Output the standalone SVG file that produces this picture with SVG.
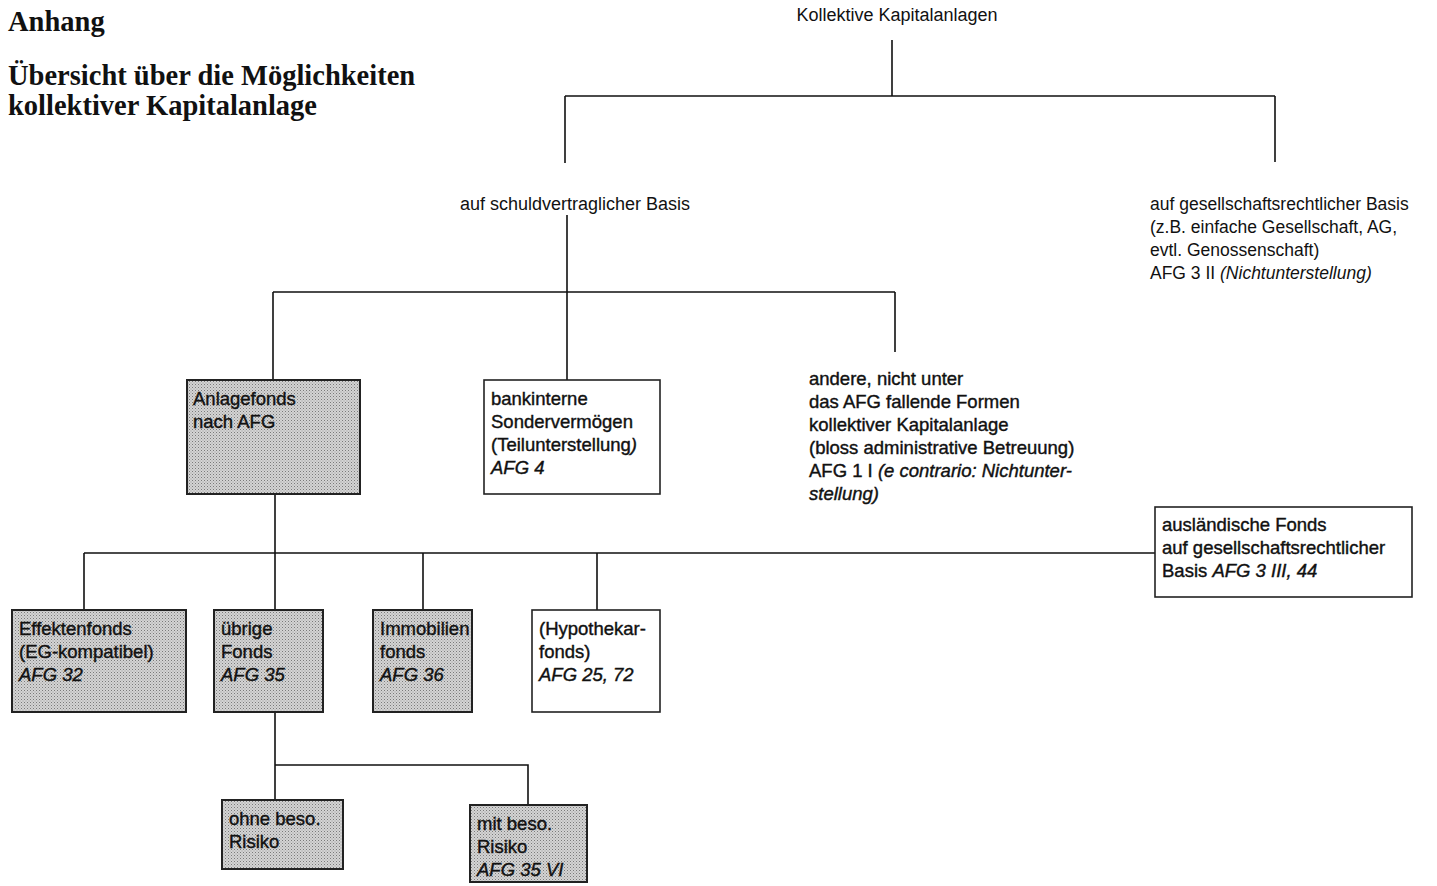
<svg xmlns="http://www.w3.org/2000/svg" width="1437" height="886" viewBox="0 0 1437 886">
<defs>
<pattern id="stip" width="3" height="3" patternUnits="userSpaceOnUse">
<rect width="3" height="3" fill="#d4d4d4"/>
<rect x="0" y="0" width="1" height="1" fill="#7a7a7a"/>
<rect x="1.5" y="1.5" width="1" height="1" fill="#9a9a9a"/>
</pattern>
<style>
.title{font-family:"Liberation Serif","Times New Roman",serif;font-weight:bold;font-size:28.5px;fill:#111}
.t{font-family:"Liberation Sans",Arial,sans-serif;font-size:18px;fill:#111}
.r{font-family:"Liberation Sans",Arial,sans-serif;font-size:17.5px;fill:#111}
.b{font-family:"Liberation Sans",Arial,sans-serif;font-size:18.5px;fill:#111;stroke:#111;stroke-width:0.4}
.i{font-style:italic}
.grey{fill:url(#stip);stroke:#222;stroke-width:2}
.white{fill:#fff;stroke:#222;stroke-width:1.6}
.ln{fill:none;stroke:#111;stroke-width:1.6}
</style>
</defs>
<rect width="1437" height="886" fill="#fff"/>
<g id="title">
<text class="title" x="8" y="31">Anhang</text>
<text class="title" x="8" y="85">Übersicht über die Möglichkeiten</text>
<text class="title" x="8" y="115">kollektiver Kapitalanlage</text>
</g>
<g id="connectors">
<path class="ln" d="M892,40 V96 M565,96 H1275 M565,96 V163 M1275,96 V162"/>
<path class="ln" d="M567,215 V380 M273,292 H895 M273,292 V380 M895,292 V352"/>
<path class="ln" d="M275,494 V610 M84,553 H1155 M84,553 V610 M423,553 V610 M597,553 V610"/>
<path class="ln" d="M275,712 V800 M275,765 H528 V805"/>
</g>
<g id="n-root"><text class="t" x="897" y="21" text-anchor="middle">Kollektive Kapitalanlagen</text></g>
<g id="n-schuld"><text class="t" x="575" y="210" text-anchor="middle">auf schuldvertraglicher Basis</text></g>
<g id="n-gesell">
<text class="r" x="1150" y="210">auf gesellschaftsrechtlicher Basis</text>
<text class="r" x="1150" y="233">(z.B. einfache Gesellschaft, AG,</text>
<text class="r" x="1150" y="256">evtl. Genossenschaft)</text>
<text class="r" x="1150" y="279">AFG 3 II <tspan class="i">(Nichtunterstellung)</tspan></text>
</g>
<g id="n-anlagefonds">
<rect class="grey" x="187" y="380" width="173" height="114"/>
<text class="b" x="193" y="405">Anlagefonds</text>
<text class="b" x="193" y="428">nach AFG</text>
</g>
<g id="n-bankintern">
<rect class="white" x="484" y="380" width="176" height="114"/>
<text class="b" x="491" y="405">bankinterne</text>
<text class="b" x="491" y="428">Sondervermögen</text>
<text class="b" x="491" y="451">(Teilunterstellung<tspan class="i">)</tspan></text>
<text class="b i" x="491" y="474">AFG 4</text>
</g>
<g id="n-andere">
<text class="b" x="809" y="385">andere, nicht unter</text>
<text class="b" x="809" y="408">das AFG fallende Formen</text>
<text class="b" x="809" y="431">kollektiver Kapitalanlage</text>
<text class="b" x="809" y="454">(bloss administrative Betreuung)</text>
<text class="b" x="809" y="477">AFG 1 I <tspan class="i">(e contrario: Nichtunter-</tspan></text>
<text class="b i" x="809" y="500">stellung)</text>
</g>
<g id="n-auslaendisch">
<rect class="white" x="1155" y="507" width="257" height="90"/>
<text class="b" x="1162" y="531">ausländische Fonds</text>
<text class="b" x="1162" y="554">auf gesellschaftsrechtlicher</text>
<text class="b" x="1162" y="577">Basis <tspan class="i">AFG 3 III, 44</tspan></text>
</g>
<g id="n-effekten">
<rect class="grey" x="12" y="610" width="174" height="102"/>
<text class="b" x="19" y="635">Effektenfonds</text>
<text class="b" x="19" y="658">(EG-kompatibel)</text>
<text class="b i" x="19" y="681">AFG 32</text>
</g>
<g id="n-uebrige">
<rect class="grey" x="214" y="610" width="109" height="102"/>
<text class="b" x="221" y="635">übrige</text>
<text class="b" x="221" y="658">Fonds</text>
<text class="b i" x="221" y="681">AFG 35</text>
</g>
<g id="n-immobilien">
<rect class="grey" x="373" y="610" width="99" height="102"/>
<text class="b" x="380" y="635">Immobilien</text>
<text class="b" x="380" y="658">fonds</text>
<text class="b i" x="380" y="681">AFG 36</text>
</g>
<g id="n-hypothekar">
<rect class="white" x="532" y="610" width="128" height="102"/>
<text class="b" x="539" y="635">(Hypothekar-</text>
<text class="b" x="539" y="658">fonds)</text>
<text class="b i" x="539" y="681">AFG 25, 72</text>
</g>
<g id="n-ohne">
<rect class="grey" x="222" y="800" width="121" height="69"/>
<text class="b" x="229" y="825">ohne beso.</text>
<text class="b" x="229" y="848">Risiko</text>
</g>
<g id="n-mit">
<rect class="grey" x="470" y="805" width="117" height="77"/>
<text class="b" x="477" y="830">mit beso.</text>
<text class="b" x="477" y="853">Risiko</text>
<text class="b i" x="477" y="876">AFG 35 VI</text>
</g>
</svg>
